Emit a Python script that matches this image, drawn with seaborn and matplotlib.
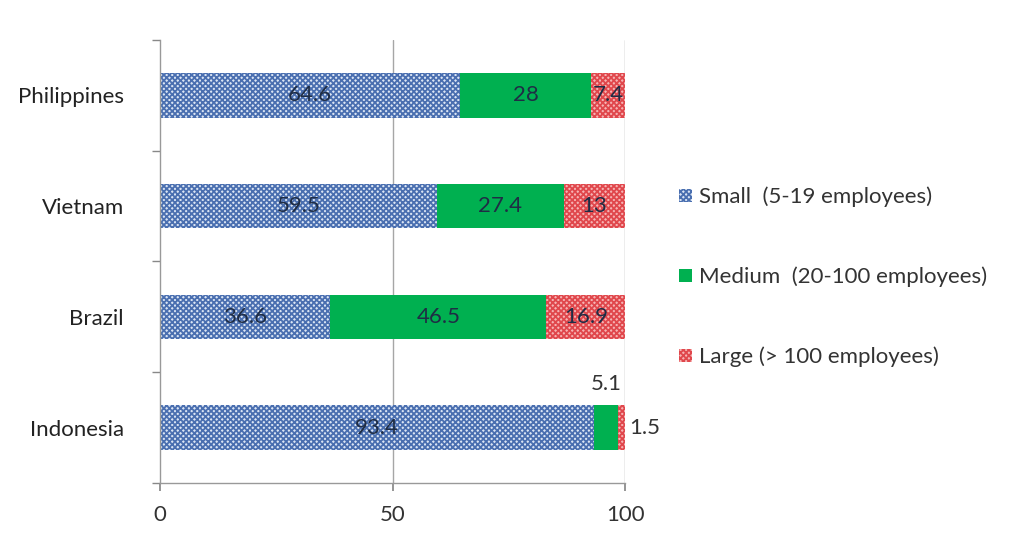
import matplotlib
matplotlib.use("Agg")
import matplotlib.pyplot as plt
from matplotlib.patches import Patch
import numpy as np
import pandas as pd
import seaborn as sns

countries = ["Philippines", "Vietnam", "Brazil", "Indonesia"]
small = [64.6, 59.5, 36.6, 93.4]
medium = [28.0, 27.4, 46.5, 5.1]
large = [7.4, 13.0, 16.9, 1.5]
series_labels = ["Small  (5-19 employees)", "Medium  (20-100 employees)", "Large (> 100 employees)"]
x_ticks = [0, 50, 100]

sns.set_theme(style="white")
plt.rcParams["font.family"] = ["Lato", "DejaVu Sans"]
plt.rcParams["hatch.linewidth"] = 1.3

FS = 16

df = pd.DataFrame({"country": countries, "small": small, "medium": medium, "large": large})
df["cum_small"] = df["small"]
df["cum_medium"] = df["small"] + df["medium"]
df["cum_large"] = df["cum_medium"] + df["large"]

fig = plt.figure(figsize=(10.16, 5.37), dpi=100)
ax = fig.add_axes([0.1575, 0.1006, 0.4577, 0.8249])

small_face, small_hatch = "#dbe5f4", "#4a6fb0"
medium_face = "#00b050"
large_face, large_hatch = "#f6b3b3", "#e0474c"

# stacked bars drawn back-to-front as cumulative totals
layers = [
    ("cum_large", large_face, large_hatch, "xxxxxx"),
    ("cum_medium", medium_face, None, None),
    ("cum_small", small_face, small_hatch, "xxxxxx"),
]
for col, face, hcol, hatch in layers:
    n_before = len(ax.patches)
    sns.barplot(data=df, x=col, y="country", order=countries, orient="h",
                color=face, saturation=1, width=0.4, ax=ax, linewidth=0)
    for p in ax.patches[n_before:]:
        p.set_facecolor(face)
        if hatch:
            p.set_hatch(hatch)
            p.set_edgecolor(hcol)
            p.set_linewidth(0)

ax.set_xlim(0, 100)
ax.set_ylim(3.5, -0.5)
ax.set_xlabel("")
ax.set_ylabel("")
ax.set_xticks(x_ticks)
ax.set_xticklabels([str(t) for t in x_ticks], fontsize=FS, color="#333333")
ax.set_yticklabels(countries, fontsize=FS, color="#222222")
ax.tick_params(axis="x", which="major", length=6, color="#888888", direction="out", bottom=True, pad=10)
ax.tick_params(axis="y", which="major", length=0, pad=26)
ax.set_yticks(np.arange(-0.5, 4.0, 1.0), minor=True)
ax.tick_params(axis="y", which="minor", length=6, color="#888888", direction="out", left=True)

for x in x_ticks[1:]:
    ax.axvline(x, color="#a6a6a6", lw=1, zorder=0.5)

for side in ["top", "right"]:
    ax.spines[side].set_visible(False)
for side in ["left", "bottom"]:
    ax.spines[side].set_color("#999999")
    ax.spines[side].set_linewidth(1)

txt_color = "#1f2d45"
for i in range(len(countries)):
    s, m, l = small[i], medium[i], large[i]
    ax.text(s / 2, i, f"{s:g}", ha="center", va="center", fontsize=FS, color=txt_color)
    if m >= 10:
        ax.text(s + m / 2, i, f"{m:g}", ha="center", va="center", fontsize=FS, color=txt_color)
        ax.text(s + m + l / 2, i, f"{l:g}", ha="center", va="center", fontsize=FS, color=txt_color)
    else:
        ax.text(s + m / 2, i - 0.3, f"{m:g}", ha="center", va="bottom", fontsize=FS, color="#333333")
        ax.text(s + m + l + 0.8, i, f"{l:g}", ha="left", va="center", fontsize=FS, color="#333333")

handles = [
    Patch(facecolor=small_face, edgecolor=small_hatch, hatch="xxxxxx", linewidth=0),
    Patch(facecolor=medium_face, linewidth=0),
    Patch(facecolor=large_face, edgecolor=large_hatch, hatch="xxxxxx", linewidth=0),
]
fig.legend(handles, series_labels, loc="center left", bbox_to_anchor=(0.649, 0.484),
           frameon=False, fontsize=FS, handlelength=0.55, handleheight=0.55,
           handletextpad=0.35, labelspacing=2.67, labelcolor="#333333")

fig.savefig("out.png", dpi=100)
